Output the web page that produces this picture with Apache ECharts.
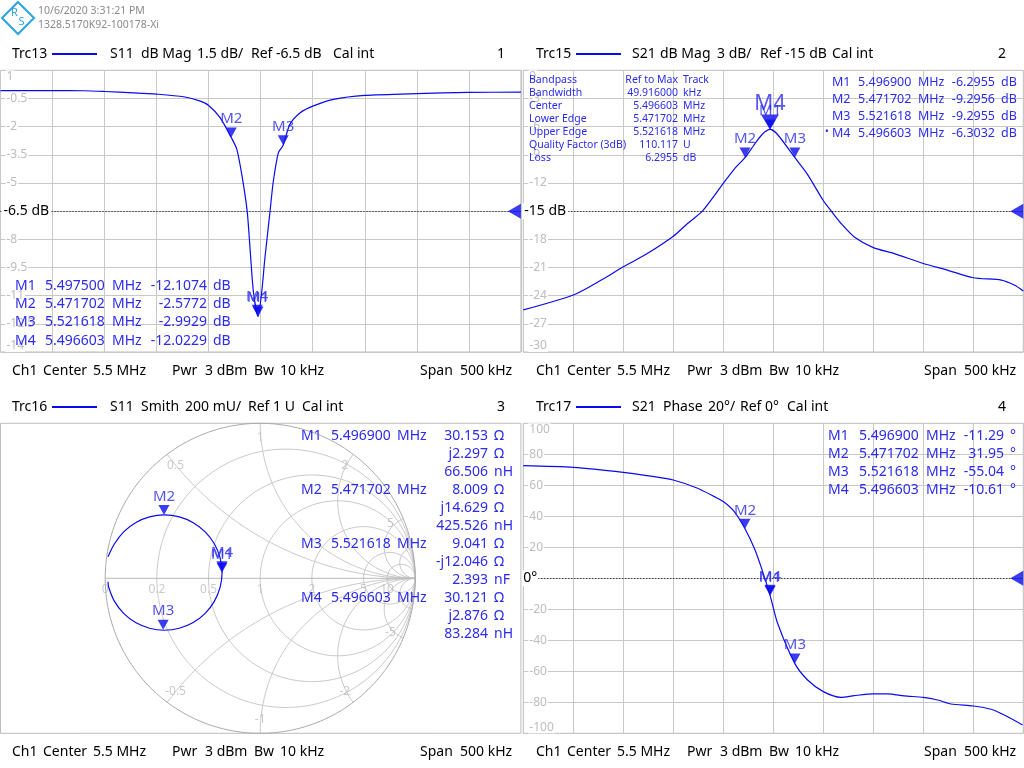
<!DOCTYPE html>
<html><head><meta charset="utf-8">
<script src="https://cdn.jsdelivr.net/npm/echarts/dist/echarts.min.js"></script>
<style>html,body{margin:0;padding:0;background:#fff}#c{width:1024px;height:768px}</style>
</head><body><div id="c"></div>
<script>
// ---------------- data ----------------
// Trc13: S11 dB Mag (frequency MHz, dB)
const s11Freq = [5.250,5.300,5.330,5.350,5.378,5.400,5.426,5.442,5.450,5.461,5.4717,5.477,5.482,5.487,5.490,5.493,5.4975,5.501,5.504,5.509,5.512,5.517,5.5216,5.528,5.538,5.550,5.570,5.600,5.650,5.700,5.750];
const s11Db   = [-0.08,-0.08,-0.09,-0.13,-0.20,-0.27,-0.41,-0.64,-0.87,-1.52,-2.58,-3.20,-4.61,-6.50,-8.67,-10.79,-12.11,-10.79,-9.02,-6.50,-4.96,-3.38,-2.99,-1.88,-1.26,-0.91,-0.55,-0.34,-0.24,-0.18,-0.16];
// Trc15: S21 dB Mag
const s21Freq = [5.250,5.300,5.328,5.350,5.374,5.400,5.414,5.429,5.450,5.461,5.4717,5.481,5.489,5.4969,5.504,5.5216,5.534,5.550,5.558,5.568,5.581,5.600,5.621,5.650,5.674,5.700,5.728,5.741,5.750];
const s21Db   = [-25.52,-23.93,-22.34,-20.93,-19.52,-17.68,-16.34,-15.00,-12.04,-10.52,-9.30,-7.91,-6.81,-6.30,-6.81,-9.30,-11.05,-13.87,-15.00,-16.34,-17.75,-18.88,-19.52,-20.58,-21.28,-22.09,-22.34,-22.87,-23.51];
// Trc17: S21 Phase (deg)
const phFreq = [5.250,5.300,5.350,5.381,5.400,5.4243,5.441,5.450,5.461,5.4717,5.481,5.4877,5.4969,5.5043,5.5216,5.5343,5.550,5.5677,5.581,5.600,5.6143,5.631,5.650,5.6643,5.6777,5.700,5.7177,5.731,5.7493];
const phDeg  = [72.7,71.6,68.4,65.6,63.4,58.1,52.7,49.5,43.0,31.95,19.4,7.5,-11.29,-29.0,-55.04,-65.6,-73.1,-76.8,-75.7,-74.6,-74.6,-75.9,-76.8,-78.5,-81.1,-82.4,-84.5,-88.2,-94.6];
// Trc16: S11 Smith trace, reflection coefficient (real, imag), in sweep order
const smithRe = [-0.982,-0.940,-0.881,-0.804,-0.714,-0.618,-0.522,-0.432,-0.355,-0.296,-0.259,-0.246,-0.259,-0.296,-0.355,-0.432,-0.522,-0.618,-0.714,-0.804,-0.881,-0.940,-0.977,-0.982];
const smithIm = [0.139,0.223,0.300,0.359,0.396,0.409,0.396,0.359,0.300,0.223,0.133,0.037,-0.059,-0.149,-0.226,-0.285,-0.322,-0.335,-0.322,-0.285,-0.226,-0.149,-0.059,-0.022];

// markers
const mkNames   = ['M1','M2','M3','M4'];
const s11MkFreq = [5.4975, 5.471702, 5.521618, 5.496603];
const s11MkDb   = [-12.1074, -2.5772, -2.9929, -12.0229];
const mkFreq    = [5.4969, 5.471702, 5.521618, 5.496603];
const s21MkDb   = [-6.2955, -9.2956, -9.2955, -6.3032];
const phMkDeg   = [-11.29, 31.95, -55.04, -10.61];
const smMkR     = [30.153, 8.009, 9.041, 30.121];
const smMkX     = [2.297, 14.629, -12.046, 2.876];
const smMkLCVal = ['66.506','425.526','2.393','83.284'];
const smMkLCUnit= ['nH','nH','nF','nH'];

// bandpass table
const bpLabels = ['Bandpass','Bandwidth','Center','Lower Edge','Upper Edge','Quality Factor (3dB)','Loss'];
const bpValues = ['Ref to Max','49.916000','5.496603','5.471702','5.521618','110.117','6.2955'];
const bpUnits  = ['Track','kHz','MHz','MHz','MHz','U','dB'];

// axis scales
const freqMin = 5.25, freqMax = 5.75, freqStep = 0.05;
const s11Min = -14, s11Max = 1, s11Step = 1.5, s11Ref = -6.5;
const s21Min = -30, s21Max = 0, s21Step = 3, s21Ref = -15;
const phMin = -100, phMax = 100, phStep = 20, phRef = 0;
// Smith grid
const smithRGrid = [0.2, 0.5, 1, 2, 5, 10];
const smithXGrid = [0.5, 1, 2, 5, 10];
const smithRLabels = [0, 0.2, 0.5, 1, 2, 5, 10];
const smithXLabels = [0.5, 1, 2, 5];

// ---------------- styling ----------------
const FONT = '"Noto Sans", "Open Sans", sans-serif';
const TRACE = '#0a0af0';
const MK = '#2b2bef';
const GRIDC = '#c8c8c8';
const BORDER = '#bdbdbd';
const LBL = '#bdbdbd';

const chart = echarts.init(document.getElementById('c'), null, {renderer:'canvas'});
const zip = (a,b) => a.map((v,i)=>[v,b[i]]);

const gTL = {left:0.5, top:70.3, width:520.4, height:281.7};
const gTR = {left:523.3, top:70.3, width:500, height:281.7};
const gBL = {left:0.5, top:423.3, width:520.4, height:310};
const gBR = {left:523.3, top:423.3, width:500, height:310};
const gSM = {left:105.2, top:423.3, width:310, height:310};
const gridBase = {show:true, borderColor:BORDER, borderWidth:1, backgroundColor:'transparent', containLabel:false};

function freqAxis(gi){
  return {gridIndex:gi, type:'value', min:freqMin, max:freqMax, interval:freqStep,
    axisLabel:{show:false}, axisTick:{show:false}, axisLine:{show:false},
    splitLine:{show:true, lineStyle:{color:GRIDC, width:1}}};
}
function valAxis(gi, mn, mx, st){
  return {gridIndex:gi, type:'value', min:mn, max:mx, interval:st,
    axisTick:{show:false}, axisLine:{show:false},
    splitLine:{show:true, lineStyle:{color:GRIDC, width:1}},
    axisLabel:{inside:true, margin:5, color:LBL, fontSize:12, fontFamily:FONT,
      backgroundColor:'#fff', padding:[0,1],
      verticalAlignMaxLabel:'top', verticalAlignMinLabel:'bottom',
      formatter:v=>String(+(+v).toFixed(2))}};
}
const hidden = gi => ({gridIndex:gi, type:'value', min:-1, max:1, show:false});

function markerSeries(xi, data, extra){
  return Object.assign({type:'scatter', xAxisIndex:xi, yAxisIndex:xi, z:10, clip:false,
    symbol:'triangle', symbolRotate:180, symbolSize:[11,10], symbolOffset:[0,-5],
    itemStyle:{color:TRACE},
    label:{show:true, position:'top', distance:1, color:MK, fontSize:15, fontFamily:FONT, formatter:p=>p.name},
    data:data}, extra||{});
}
function refSeries(xi, yv){
  return {type:'scatter', xAxisIndex:xi, yAxisIndex:xi, z:9, clip:false, silent:true,
    symbol:'triangle', symbolRotate:90, symbolSize:[15,13], symbolOffset:[-6.5,0],
    itemStyle:{color:TRACE}, data:[[freqMax, yv]]};
}
function traceSeries(xi, data, ref){
  return {type:'line', xAxisIndex:xi, yAxisIndex:xi, data:data, showSymbol:false, z:5, silent:true,
    smooth:0.25,
    lineStyle:{color:TRACE, width:1.2}, animation:false,
    markLine:{silent:true, symbol:'none', label:{show:false}, animation:false,
      lineStyle:{color:'#000', type:[1,2], width:1}, data:[{yAxis:ref}]}};
}

// Smith grid curves
function rCircle(r){
  const c = r/(1+r), rad = 1/(1+r), pts = [];
  for (let i=0;i<=360;i++){ const a=i/360*2*Math.PI; pts.push([c+rad*Math.cos(a), rad*Math.sin(a)]); }
  return pts;
}
function xArc(x){
  const pts=[];
  for (let i=0;i<=400;i++){
    const t=i/400;
    if (t>=1){ pts.push([1,0]); continue; }
    const r=t/(1-t), den=(r+1)*(r+1)+x*x;
    pts.push([(r*r+x*x-1)/den, 2*x/den]);
  }
  return pts;
}
const gammaOf = (R,X) => { const zr=R/50, zi=X/50, den=(zr+1)*(zr+1)+zi*zi; return [(zr*zr+zi*zi-1)/den, 2*zi/den]; };

const series = [];
// S11 dB
series.push(traceSeries(0, zip(s11Freq, s11Db), s11Ref));
series.push(markerSeries(0, mkNames.map((n,i)=>({name:n, value:[s11MkFreq[i], s11MkDb[i]]}))));
series.push(refSeries(0, s11Ref));
// S21 dB
series.push(traceSeries(1, zip(s21Freq, s21Db), s21Ref));
series.push(markerSeries(1, mkNames.map((n,i)=>{
  const d={name:n, value:[mkFreq[i], s21MkDb[i]]};
  if (n==='M4'){ d.symbolSize=[18,15]; d.symbolOffset=[0,-7.5]; d.label={fontSize:21, distance:0}; }
  return d;
}).reverse()));
series.push(refSeries(1, s21Ref));
// Phase
series.push(traceSeries(3, zip(phFreq, phDeg), phRef));
series.push(markerSeries(3, mkNames.map((n,i)=>({name:n, value:[mkFreq[i], phMkDeg[i]]}))));
series.push(refSeries(3, phRef));
// Smith grid
const smLine = (pts, color) => ({type:'line', xAxisIndex:4, yAxisIndex:4, data:pts, showSymbol:false, silent:true,
  clip:false, z:1, lineStyle:{color:color, width:1}, animation:false});
smithRGrid.forEach(r=>series.push(smLine(rCircle(r), GRIDC)));
smithXGrid.forEach(x=>{ series.push(smLine(xArc(x), GRIDC)); series.push(smLine(xArc(-x), GRIDC)); });
series.push(smLine([[-1,0],[1,0]], '#b8b8b8'));
series.push(smLine(rCircle(0), '#a8a8a8'));
// Smith labels
const smLabels = smithRLabels.map(r=>({name:String(r), value:[(r-1)/(r+1),0], label:{position:'bottom', distance:5}}))
  .concat(smithXLabels.flatMap(x=>{
    const d=x*x+1, ux=(x*x-1)/d, uy=2*x/d, k=0.91;
    return [{name:String(x), value:[ux*k, uy*k]}, {name:String(-x), value:[ux*k, -uy*k]}];
  }));
series.push({type:'scatter', xAxisIndex:4, yAxisIndex:4, silent:true, symbolSize:0, z:2, clip:false,
  label:{show:true, position:'inside', color:LBL, fontSize:12, fontFamily:FONT, formatter:p=>p.name}, data:smLabels});
// Smith trace
series.push({type:'line', xAxisIndex:4, yAxisIndex:4, data:zip(smithRe, smithIm), smooth:0.3, showSymbol:false,
  silent:true, clip:false, z:5, lineStyle:{color:TRACE, width:1.2}});
series.push(markerSeries(4, mkNames.map((n,i)=>({name:n, value:gammaOf(smMkR[i], smMkX[i])}))));

chart.setOption({
  animation:false,
  backgroundColor:'#fff',
  grid:[Object.assign({}, gridBase, gTL), Object.assign({}, gridBase, gTR), Object.assign({}, gridBase, gBL),
        Object.assign({}, gridBase, gBR), Object.assign({}, gSM, {show:false})],
  xAxis:[freqAxis(0), freqAxis(1), hidden(2), freqAxis(3), hidden(4)],
  yAxis:[valAxis(0, s11Min, s11Max, s11Step), valAxis(1, s21Min, s21Max, s21Step), hidden(2),
         valAxis(3, phMin, phMax, phStep), hidden(4)],
  series:series
});

// ---------------- texts ----------------
function txt(x, y, s, o){
  o = o || {};
  const st = {text:s, fill:o.fill||'#000', font:(o.size||14)+'px '+FONT, align:o.align||'left', verticalAlign:'middle'};
  if (o.bg){ st.backgroundColor=o.bg; st.padding=o.pad||[0,2]; }
  return {type:'text', x:x, y:y, z:100, silent:true, style:st};
}
const G = [];
// logo + header
const LOGO = '#2aa4dc';
G.push({type:'polygon', z:100, silent:true, shape:{points:[[18,2],[34,18],[18,34],[2,18]]}, style:{fill:'none', stroke:LOGO, lineWidth:2}});
G.push(txt(14.5,13,'R',{fill:LOGO,size:11,align:'center'}));
G.push(txt(21.5,22,'S',{fill:LOGO,size:11,align:'center'}));
G.push(txt(38,11,'10/6/2020 3:31:21 PM',{fill:'#8a8a8a',size:10.5}));
G.push(txt(38,25,'1328.5170K92-100178-Xi',{fill:'#8a8a8a',size:10.5}));

function titleRow(y, ox, trc, segs, num, numX){
  G.push(txt(ox+12, y, trc));
  G.push({type:'line', z:100, silent:true, shape:{x1:ox+52,y1:y,x2:ox+97,y2:y}, style:{stroke:TRACE, lineWidth:2}});
  segs.forEach(s=>G.push(txt(ox+s[1], y, s[0])));
  G.push(txt(numX, y, num, {align:'right'}));
}
titleRow(54, 0, 'Trc13', [['S11',110],['dB Mag',141],['1.5 dB/',197],['Ref -6.5 dB',251],['Cal int',333]], '1', 505);
titleRow(54, 524, 'Trc15', [['S21',108],['dB Mag',136],['3 dB/',193],['Ref -15 dB',236],['Cal int',308]], '2', 1006);
titleRow(407, 0, 'Trc16', [['S11',110],['Smith',141],['200 mU/',185],['Ref 1 U',248],['Cal int',302]], '3', 505);
titleRow(407, 524, 'Trc17', [['S21',108],['Phase',139],['20°/',184],['Ref 0°',216],['Cal int',263]], '4', 1006);

const statusLeft  = [['Ch1',12],['Center',43],['5.5 MHz',93],['Pwr',172],['3 dBm',205],['Bw',254],['10 kHz',280],['Span',420],['500 kHz',460]];
const statusRight = [['Ch1',12],['Center',43],['5.5 MHz',93],['Pwr',163],['3 dBm',196],['Bw',245],['10 kHz',271],['Span',400],['500 kHz',440]];
function statusRow(y, ox, segs){ segs.forEach(s=>G.push(txt(ox+s[1], y, s[0]))); }
statusRow(371, 0, statusLeft); statusRow(371, 524, statusRight);
statusRow(752, 0, statusLeft); statusRow(752, 524, statusRight);

// reference level labels
const p0 = chart.convertToPixel({xAxisIndex:0, yAxisIndex:0}, [freqMin, s11Ref]);
const p1 = chart.convertToPixel({xAxisIndex:1, yAxisIndex:1}, [freqMin, s21Ref]);
const p3 = chart.convertToPixel({xAxisIndex:3, yAxisIndex:3}, [freqMin, phRef]);
G.push(txt(p0[0]+1, p0[1], s11Ref+' dB', {bg:'#fff', pad:[1,2], size:14}));
G.push(txt(p1[0]-1, p1[1], s21Ref+' dB', {bg:'#fff', pad:[1,2], size:14}));
G.push(txt(p3[0]-1, p3[1], phRef+'°', {bg:'#fff', pad:[1,1], size:14}));

// marker tables
mkNames.forEach((n,i)=>{
  const y = 286 + 18.2*i;
  G.push(txt(15, y, n, {fill:MK}));
  G.push(txt(45, y, s11MkFreq[i].toFixed(6), {fill:MK}));
  G.push(txt(112, y, 'MHz', {fill:MK}));
  G.push(txt(207, y, s11MkDb[i].toFixed(4), {fill:MK, align:'right'}));
  G.push(txt(213, y, 'dB', {fill:MK}));
});
mkNames.forEach((n,i)=>{
  const y = 82 + 17.2*i;
  if (n==='M4') G.push(txt(825, y-1, '•', {fill:MK, size:10}));
  G.push(txt(832, y, n, {fill:MK, size:12.5}));
  G.push(txt(858, y, mkFreq[i].toFixed(6), {fill:MK, size:12.5}));
  G.push(txt(918, y, 'MHz', {fill:MK, size:12.5}));
  G.push(txt(995, y, s21MkDb[i].toFixed(4), {fill:MK, size:12.5, align:'right'}));
  G.push(txt(1001, y, 'dB', {fill:MK, size:12.5}));
});
bpLabels.forEach((l,i)=>{
  const y = 80.5 + 13*i;
  G.push(txt(529, y, l, {fill:MK, size:10.5}));
  G.push(txt(678, y, bpValues[i], {fill:MK, size:10.5, align:'right'}));
  G.push(txt(683, y, bpUnits[i], {fill:MK, size:10.5}));
});
mkNames.forEach((n,i)=>{
  const y = 436 + 54*i;
  const xs = smMkX[i] < 0 ? '-j'+Math.abs(smMkX[i]).toFixed(3) : 'j'+smMkX[i].toFixed(3);
  G.push(txt(301, y, n, {fill:MK}));
  G.push(txt(331, y, mkFreq[i].toFixed(6), {fill:MK}));
  G.push(txt(397, y, 'MHz', {fill:MK}));
  G.push(txt(488, y, smMkR[i].toFixed(3), {fill:MK, align:'right'}));
  G.push(txt(494, y, 'Ω', {fill:MK}));
  G.push(txt(488, y+18, xs, {fill:MK, align:'right'}));
  G.push(txt(494, y+18, 'Ω', {fill:MK}));
  G.push(txt(488, y+36, smMkLCVal[i], {fill:MK, align:'right'}));
  G.push(txt(494, y+36, smMkLCUnit[i], {fill:MK}));
});
mkNames.forEach((n,i)=>{
  const y = 436 + 18*i;
  G.push(txt(828, y, n, {fill:MK}));
  G.push(txt(859, y, mkFreq[i].toFixed(6), {fill:MK}));
  G.push(txt(926, y, 'MHz', {fill:MK}));
  G.push(txt(1004, y, phMkDeg[i].toFixed(2), {fill:MK, align:'right'}));
  G.push(txt(1010, y, '°', {fill:MK}));
});

chart.setOption({graphic:G});
</script></body></html>
